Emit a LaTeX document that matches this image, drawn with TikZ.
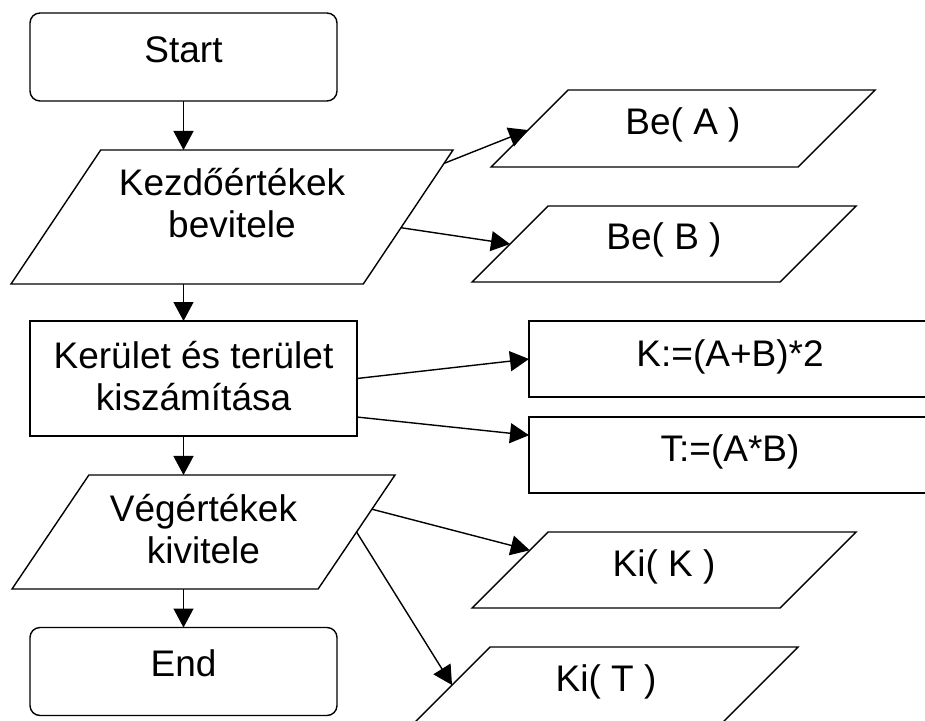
\documentclass[tikz,border=0pt]{standalone}
\usepackage{fontspec}
\setmainfont{Liberation Sans}
\usetikzlibrary{shapes.geometric,arrows.meta,calc}
\begin{document}
\begin{tikzpicture}[x=1pt,y=-1pt,line width=1.4pt,
  box/.style={draw, font=\fontsize{37}{42}\selectfont, inner sep=0pt, outer sep=0pt,
    align=center, text height=27pt, text depth=14pt},
  terminal/.style={box, rectangle, rounded corners=10pt, minimum width=307pt,
    minimum height=88pt, text depth=17pt},
  proc/.style={box, rectangle},
  io/.style={box, trapezium, trapezium stretches body,
    trapezium left angle=#1, trapezium right angle={180-#1}},
  arr/.style={-{Triangle[length=19pt,width=20pt]}}]
\useasboundingbox (0,0) rectangle (925,720);

% main column
\node[terminal] (start) at (183.5,57) {Start};
\node[io=56.2, minimum width=442pt, minimum height=134pt, text height=87.8pt, text depth=46.2pt]
  (kezd) at (232,217) {Kezdőértékek\\bevitele};
\node[proc, minimum width=327pt, minimum height=115pt, text height=69pt, text depth=5.4pt]
  (ker) at (193.5,378.5) {Kerület és terület\\kiszámítása};
\node[io=56, minimum width=383pt, minimum height=114pt, text height=88.8pt, text depth=25.2pt]
  (veg) at (203.5,532) {Végértékek\\kivitele};
\node[terminal, text depth=16.4pt] (end) at (183.5,671.5) {End};

% detail steps
\node[io=45, minimum width=384pt, minimum height=77pt, text height=44.8pt, text depth=32.2pt]
  (bea) at (683,128.5) {Be( A )};
\node[io=45, minimum width=384pt, minimum height=76pt, text height=43.8pt, text depth=32.2pt]
  (beb) at (664,244) {Be( B )};
\node[proc, minimum width=402pt, minimum height=76pt, text depth=11.4pt]
  (kk) at (730,359) {K:=(A+B)*2};
\node[proc, minimum width=402pt, minimum height=76pt, text depth=13.4pt]
  (tt) at (730,455) {T:=(A*B)};
\node[io=45, minimum width=384pt, minimum height=76pt, text height=44.8pt, text depth=31.2pt]
  (kik) at (664,570) {Ki( K )};
\node[io=45, minimum width=384pt, minimum height=76pt, text height=44.8pt, text depth=31.2pt]
  (kit) at (606,685) {Ki( T )};

% flow of the main column
\draw[arr] (start.south) -- (start.south |- kezd.north);
\draw[arr] (kezd.south -| start.south) -- (ker.north -| start.south);
\draw[arr] (ker.south -| start.south) -- (veg.north -| start.south);
\draw[arr] (veg.south -| start.south) -- (end.north);

% branches to the detail steps
\draw[arr] ($(kezd.top right corner)!0.1!(kezd.bottom right corner)$)
  -- ($(bea.top left corner)!0.52!(bea.bottom left corner)$);
\draw[arr] ($(kezd.top right corner)!0.58!(kezd.bottom right corner)$)
  -- ($(beb.top left corner)!0.5!(beb.bottom left corner)$);
\draw[arr] (ker.east) -- (kk.west);
\draw[arr] ($(ker.north east)!0.835!(ker.south east)$)
  -- ($(tt.north west)!0.24!(tt.south west)$);
\draw[arr] ($(veg.top right corner)!0.3!(veg.bottom right corner)$)
  -- ($(kik.top left corner)!0.24!(kik.bottom left corner)$);
\draw[arr] ($(veg.top right corner)!0.5!(veg.bottom right corner)$)
  -- ($(kit.top left corner)!0.5!(kit.bottom left corner)$);
\end{tikzpicture}
\end{document}
